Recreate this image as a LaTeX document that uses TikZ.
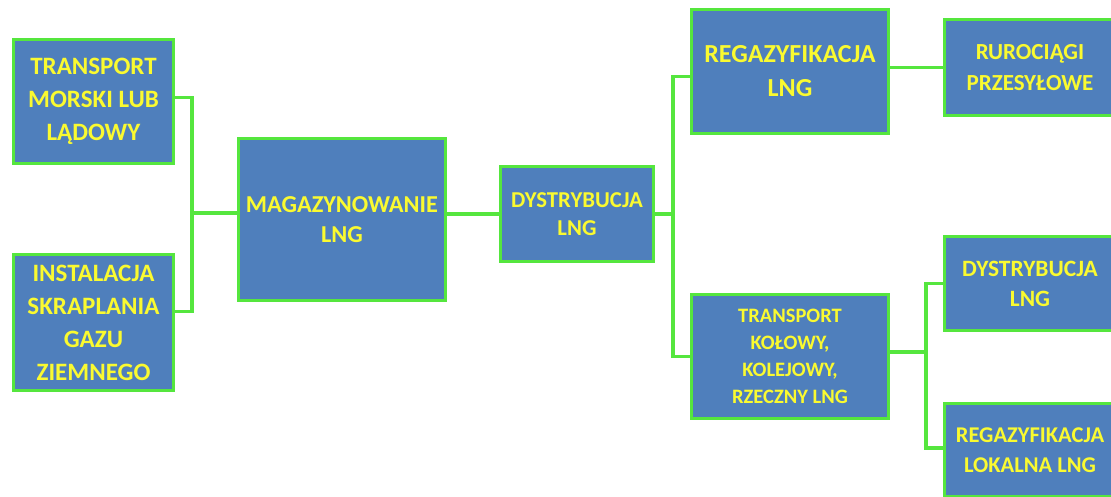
\documentclass[tikz,border=0pt]{standalone}
\usepackage{fontspec}
\setmainfont{Carlito}
\definecolor{lngblue}{HTML}{4F7FBC}
\definecolor{lnggreen}{HTML}{55E63E}
\definecolor{lngyellow}{HTML}{FAFA30}
\usetikzlibrary{calc}

\begin{document}
\begin{tikzpicture}[x=1pt, y=-1pt,
    lngbox/.style={draw=lnggreen, fill=lngblue, line width=3pt, text=lngyellow,
      align=center, inner sep=0pt},
    txt/.style 2 args={font={\fontsize{#1}{#2}\selectfont\bfseries}},
    link/.style={draw=lnggreen, line width=3.5pt}]
      \clip (0,0) rectangle (1111,497);
      \fill[white] (0,0) rectangle (1111,497);

      \node[lngbox, txt={25}{33}, minimum width=160pt, minimum height=124pt] (tml) at (93.5,101.5)
        {TRANSPORT\\MORSKI LUB\\LĄDOWY};
      \node[lngbox, txt={25}{33}, minimum width=160pt, minimum height=136pt] (ins) at (93.5,322.5)
        {INSTALACJA\\SKRAPLANIA\\GAZU\\ZIEMNEGO};
      \node[lngbox, txt={24.3}{30}, minimum width=207pt, minimum height=162pt] (mag) at (342,219.5)
        {MAGAZYNOWANIE\\LNG};
      \node[lngbox, txt={22.7}{28}, minimum width=153pt, minimum height=95pt] (dys) at (577,214)
        {DYSTRYBUCJA\\LNG};
      \node[lngbox, txt={26}{34}, minimum width=197pt, minimum height=124pt] (reg) at (790,71.5)
        {REGAZYFIKACJA\\LNG};
      \node[lngbox, txt={23}{31}, minimum width=171pt, minimum height=96pt] (rur) at (1030,67.5)
        {RUROCIĄGI\\PRZESYŁOWE};
      \node[lngbox, txt={20.5}{27}, minimum width=197pt, minimum height=124pt] (tko) at (790,356.5)
        {TRANSPORT\\KOŁOWY,\\KOLEJOWY,\\RZECZNY LNG};
      \node[lngbox, txt={23.4}{30}, minimum width=171pt, minimum height=94pt] (dyr) at (1030,283.5)
        {DYSTRYBUCJA\\LNG};
      \node[lngbox, txt={22.5}{30}, minimum width=171pt, minimum height=93pt] (rlo) at (1030,450)
        {REGAZYFIKACJA\\LOKALNA LNG};

      \coordinate (j1) at (192,213);
      \coordinate (j2) at (673,214);
      \coordinate (j3) at (926,352);

      \draw[link] ([yshift=4pt]tml.east) -| (j1) |- ([yshift=11pt]ins.east);
      \draw[link] (j1) -- (j1 -| mag.west);
      \draw[link] (dys.west -| mag.east) -- (dys.west);
      \draw[link] (dys.east) -- (j2);
      \draw[link] ([yshift=-5pt]reg.west) -| (j2) |- (tko.west);
      \draw[link] (reg.east |- rur.west) -- (rur.west);
      \draw[link] (j3 -| tko.east) -- (j3);
      \draw[link] (dyr.west) -| (j3) |- ([yshift=2pt]rlo.west);
    \end{tikzpicture}
\end{document}
